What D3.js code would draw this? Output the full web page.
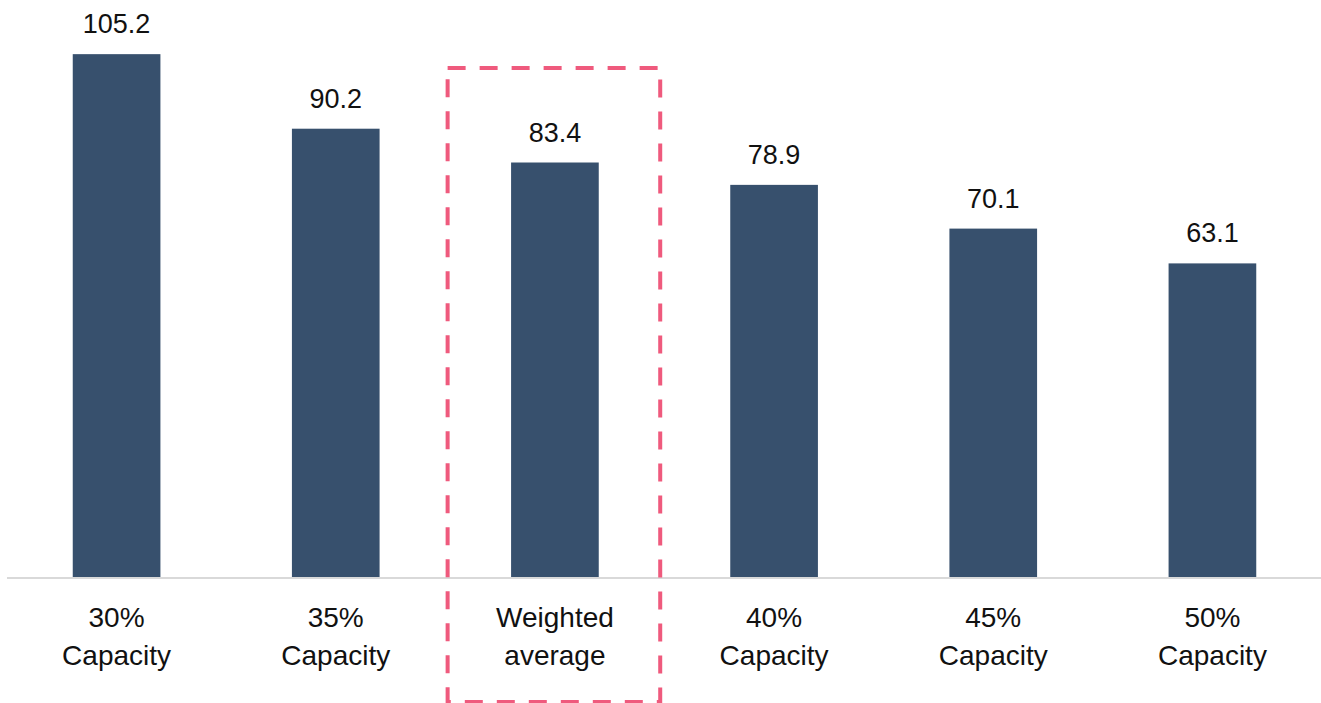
<!DOCTYPE html>
<html>
<head>
<meta charset="utf-8">
<script src="https://cdn.jsdelivr.net/npm/d3@7"></script>
<style>
  html, body { margin: 0; padding: 0; background: #fff; }
  svg { display: block; }
  text { font-family: "Liberation Sans", Arial, sans-serif; fill: #111; }
</style>
</head>
<body>
<svg id="chart" width="1321" height="703"></svg>
<script>
// Scenario values
const categories = ["30% Capacity", "35% Capacity", "Weighted average", "40% Capacity", "45% Capacity", "50% Capacity"];
const categoryLines = [["30%", "Capacity"], ["35%", "Capacity"], ["Weighted", "average"], ["40%", "Capacity"], ["45%", "Capacity"], ["50%", "Capacity"]];
const values = [105.2, 90.2, 83.4, 78.9, 70.1, 63.1];
const highlighted = "Weighted average";

const W = 1321, H = 703;
const baseY = 577;
const svg = d3.select("#chart");

const x = d3.scaleBand().domain(categories).range([7, 1322]).paddingInner(0.6).paddingOuter(0.3);
const y = d3.scaleLinear().domain([0, 110]).range([baseY, baseY - 110 * 4.97]);

// Bars
svg.append("g").selectAll("rect")
  .data(values)
  .join("rect")
  .attr("x", (d, i) => x(categories[i]))
  .attr("y", d => y(d))
  .attr("width", x.bandwidth())
  .attr("height", d => y(0) - y(d))
  .attr("fill", "#37506d");

// Value labels
svg.append("g").selectAll("text")
  .data(values)
  .join("text")
  .attr("x", (d, i) => x(categories[i]) + x.bandwidth() / 2)
  .attr("y", d => y(d) - 21)
  .attr("text-anchor", "middle")
  .style("font-size", "27px")
  .text(d => d.toFixed(1));

// Baseline
svg.append("line")
  .attr("x1", 7).attr("x2", W)
  .attr("y1", baseY + 1).attr("y2", baseY + 1)
  .attr("stroke", "#d9d9d9")
  .attr("stroke-width", 2);

// Category labels (two lines each)
const cat = svg.append("g").selectAll("text")
  .data(categories)
  .join("text")
  .attr("x", d => x(d) + x.bandwidth() / 2)
  .attr("y", 627)
  .attr("text-anchor", "middle")
  .style("font-size", "28px");
cat.selectAll("tspan")
  .data((d, i) => categoryLines[i])
  .join("tspan")
  .attr("x", function () { return d3.select(this.parentNode).attr("x"); })
  .attr("dy", (d, j) => j === 0 ? 0 : 38)
  .text(d => d);

// Dashed frame around the weighted-average scenario
const step = x.step();
const cx = x(highlighted) + x.bandwidth() / 2;
const boxW = step * 0.97;
svg.append("rect")
  .attr("x", cx - boxW / 2 - 1)
  .attr("y", 68)
  .attr("width", boxW)
  .attr("height", 634)
  .attr("fill", "none")
  .attr("stroke", "#ef5a7d")
  .attr("stroke-width", 4)
  .attr("stroke-dasharray", "18,14");
</script>
</body>
</html>
